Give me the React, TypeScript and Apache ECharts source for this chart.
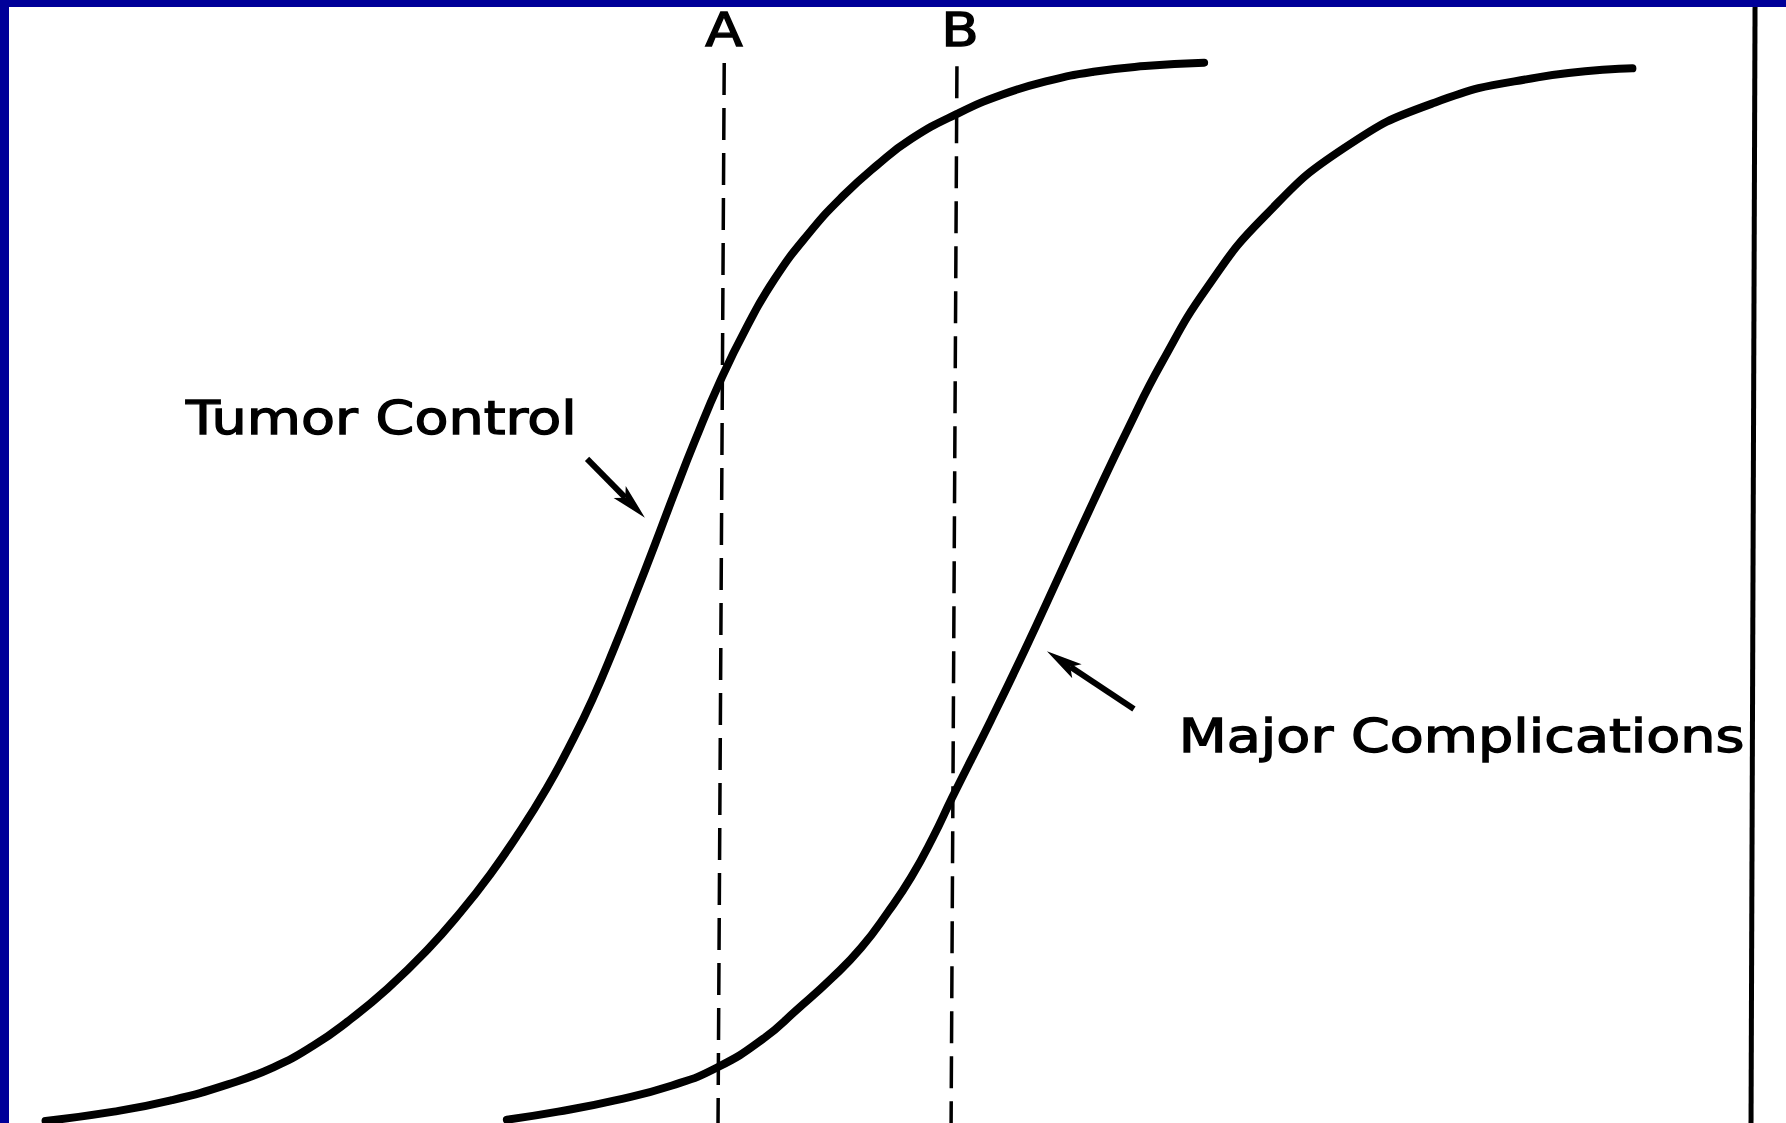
import React, { useEffect, useRef } from "react";
import * as echarts from "echarts";

// Dose (arbitrary units, 0-100 across the frame) and probability (%)
const tumorDose = [2.55, 6.38, 9.57, 12.76, 15.31, 17.54, 19.45, 21.69, 23.92, 25.83, 27.43, 29.02, 30.61, 31.89, 33.17, 34.44, 35.53, 36.67, 37.76, 38.91, 40.31, 41.78, 43.37, 45.28, 47.2, 49.11, 51.02, 53.58, 56.13, 58.68, 61.23, 64.1, 67.42];
const tumorProb = [0.2, 1.06, 2.12, 3.61, 5.21, 7.23, 9.47, 12.56, 16.18, 19.8, 23.21, 27.04, 31.3, 35.24, 39.61, 44.61, 49.19, 54.09, 58.89, 63.78, 69.32, 74.33, 78.91, 83.17, 86.68, 89.56, 92.01, 94.35, 96.16, 97.44, 98.29, 98.82, 99.14];

const compDose = [28.38, 31.25, 34.44, 37.63, 40.18, 42.73, 44.65, 46.56, 48.22, 49.75, 51.02, 52.24, 53.32, 55.49, 57.4, 59.32, 61.23, 63.14, 65.06, 67.61, 70.8, 75.26, 80.36, 86.1, 91.4];
const compProb = [0.31, 1.06, 2.12, 3.51, 5.21, 7.87, 10.64, 13.52, 16.39, 19.8, 22.99, 26.72, 30.45, 37.69, 44.29, 51.22, 58.14, 64.85, 71.13, 78.16, 84.77, 91.16, 95.42, 97.76, 98.61];

// Reference dose lines A and B (slightly slanted as drawn)
const lineADose = [40.55, 40.2];
const lineAProb = [99.1, -1];
const lineBDose = [53.58, 53.25];
const lineBProb = [98.8, -1];

// Right frame line
const frameDose = [98.27, 98.04];
const frameProb = [106, -1];

// Annotations (data coordinates)
const labelNames = ["A", "B"];
const labelDose = [40.54, 53.75];
const labelProb = [102.2, 102.2];

const curveLabels = ["Tumor Control", "Major Complications"];
const curveLabelDose = [10.41, 66.0];
const curveLabelProb = [65.9, 36.2];

const arrowTailDose = [32.87, 63.49];
const arrowTailProb = [62.1, 38.7];
const arrowTipDose = [36.11, 58.62];
const arrowTipProb = [56.6, 44.1];

const zip = (xs: number[], ys: number[]) => xs.map((x, i) => [x, ys[i]]);

export default function App() {
  const ref = useRef<HTMLDivElement>(null);

  useEffect(() => {
    if (!ref.current) return;
    const chart = echarts.init(ref.current, null, { renderer: "svg" });
    const dashed = { color: "#000", width: 3.5, type: [32, 13] as any };
    chart.setOption({
      animation: false,
      backgroundColor: "#ffffff",
      grid: { left: 0, right: 0, top: 0, bottom: 0 },
      xAxis: { type: "value", min: 0, max: 100, show: false },
      yAxis: { type: "value", min: 0, max: 105, show: false },
      series: [
        {
          name: "Tumor Control",
          type: "line",
          data: zip(tumorDose, tumorProb),
          smooth: 0.5,
          showSymbol: false,
          lineStyle: { color: "#000", width: 8, cap: "round" },
        },
        {
          name: "Major Complications",
          type: "line",
          data: zip(compDose, compProb),
          smooth: 0.5,
          showSymbol: false,
          lineStyle: { color: "#000", width: 8, cap: "round" },
        },
        {
          name: "A",
          type: "line",
          data: zip(lineADose, lineAProb),
          showSymbol: false,
          lineStyle: dashed,
        },
        {
          name: "B",
          type: "line",
          data: zip(lineBDose, lineBProb),
          showSymbol: false,
          lineStyle: dashed,
        },
        {
          name: "frame",
          type: "line",
          data: zip(frameDose, frameProb),
          showSymbol: false,
          lineStyle: { color: "#000", width: 5 },
        },
      ],
    });

    const px = (x: number, y: number) => chart.convertToPixel({ gridIndex: 0 }, [x, y]) as number[];
    const graphics: any[] = [];
    const textStyle = {
      fontSize: 46,
      fontFamily: "DejaVu Sans",
      fill: "#000",
      stroke: "#000",
      lineWidth: 1.3,
    };

    labelNames.forEach((t, i) => {
      const p = px(labelDose[i], labelProb[i]);
      graphics.push({
        type: "text",
        x: p[0],
        y: p[1],
        scaleX: 1.19,
        z: 10,
        style: { ...textStyle, text: t, align: "center", verticalAlign: "middle" },
      });
    });

    curveLabels.forEach((t, i) => {
      const p = px(curveLabelDose[i], curveLabelProb[i]);
      graphics.push({
        type: "text",
        x: p[0],
        y: p[1],
        scaleX: 1.21,
        z: 10,
        style: { ...textStyle, text: t, align: "left", verticalAlign: "middle" },
      });
    });

    arrowTailDose.forEach((_, i) => {
      const a = px(arrowTailDose[i], arrowTailProb[i]);
      const b = px(arrowTipDose[i], arrowTipProb[i]);
      const dx = b[0] - a[0];
      const dy = b[1] - a[1];
      const L = Math.hypot(dx, dy);
      const ux = dx / L;
      const uy = dy / L;
      const headLen = 36;
      const headW = 17;
      const bx = b[0] - ux * headLen;
      const by = b[1] - uy * headLen;
      const nx = -uy;
      const ny = ux;
      graphics.push({
        type: "line",
        z: 10,
        shape: { x1: a[0], y1: a[1], x2: bx + ux * 8, y2: by + uy * 8 },
        style: { stroke: "#000", lineWidth: 6 },
      });
      graphics.push({
        type: "polygon",
        z: 10,
        shape: {
          points: [
            [b[0], b[1]],
            [bx + (nx * headW) / 2, by + (ny * headW) / 2],
            [bx + ux * 8, by + uy * 8],
            [bx - (nx * headW) / 2, by - (ny * headW) / 2],
          ],
        },
        style: { fill: "#000" },
      });
    });

    // Blue slide frame (top band and left band)
    graphics.push({ type: "rect", z: 100, shape: { x: 0, y: 0, width: 1786, height: 7 }, style: { fill: "#000099" } });
    graphics.push({ type: "rect", z: 100, shape: { x: 0, y: 0, width: 9, height: 1123 }, style: { fill: "#000099" } });

    chart.setOption({ graphic: graphics });

    return () => chart.dispose();
  }, []);

  return (
    <div
      ref={ref}
      style={{ position: "fixed", left: 0, top: 0, width: 1786, height: 1123, background: "#fff" }}
    />
  );
}
